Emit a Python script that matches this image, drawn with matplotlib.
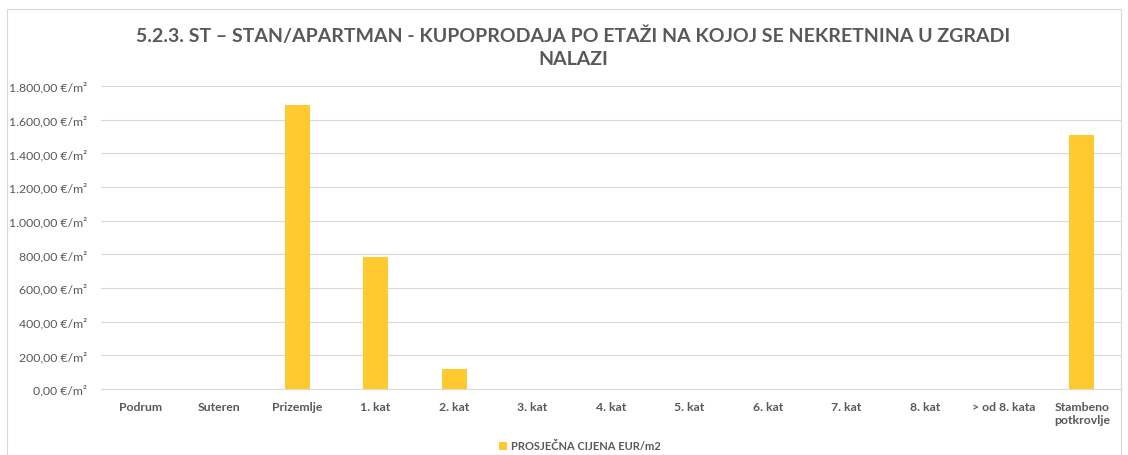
import matplotlib
matplotlib.use("Agg")
import matplotlib.pyplot as plt
from matplotlib.patches import Rectangle

categories = ["Podrum", "Suteren", "Prizemlje", "1. kat", "2. kat", "3. kat", "4. kat",
              "5. kat", "6. kat", "7. kat", "8. kat", "> od 8. kata", "Stambeno\npotkrovlje"]
values = [0, 0, 1687, 784, 119, 0, 0, 0, 0, 0, 0, 0, 1509]
yticks = [0, 200, 400, 600, 800, 1000, 1200, 1400, 1600, 1800]
ytick_labels = ["0,00 €/m²", "200,00 €/m²", "400,00 €/m²", "600,00 €/m²", "800,00 €/m²",
                "1.000,00 €/m²", "1.200,00 €/m²", "1.400,00 €/m²", "1.600,00 €/m²", "1.800,00 €/m²"]
title = "5.2.3. ST – STAN/APARTMAN - KUPOPRODAJA PO ETAŽI NA KOJOJ SE NEKRETNINA U ZGRADI\nNALAZI"
series_name = "PROSJEČNA CIJENA EUR/m2"

plt.rcParams['font.family'] = ['Lato', 'DejaVu Sans']

fig = plt.figure(figsize=(11.28, 4.56), dpi=100)
fig.patches.append(Rectangle((7/1128, 0), (1121-7)/1128, 1 - 10/456, transform=fig.transFigure,
                             fill=False, edgecolor="#d9d9d9", linewidth=0.8))
ax = fig.add_axes([101/1128, 1 - 390/456, (1121-101)/1128, (390-87)/456])

x = list(range(len(categories)))
ax.bar(x, values, width=0.32, color="#FFCA2F", zorder=3, label=series_name)
ax.set_xlim(-0.5, len(categories) - 0.5)
ax.set_ylim(0, 1800)
ax.set_yticks(yticks)
ax.set_yticklabels(ytick_labels, fontsize=8.8, color="#595959")
ax.set_xticks(x)
ax.set_xticklabels(categories, fontsize=8.8, color="#595959", fontweight="bold")
ax.grid(axis="y", color="#d9d9d9", linewidth=0.8, zorder=0)
for s in ["top", "right", "left"]:
    ax.spines[s].set_visible(False)
ax.spines["bottom"].set_color("#d9d9d9")
ax.spines["bottom"].set_linewidth(0.8)
ax.tick_params(axis="y", length=0, pad=10)
ax.tick_params(axis="x", length=0, pad=9)

fig.text(573/1128, 1 - 47/456, title, ha="center", va="center", fontsize=14,
         fontweight="bold", color="#595959", linespacing=1.45)

leg = fig.legend(loc="center", bbox_to_anchor=(580/1128, 1 - 447/456), frameon=False,
                 prop={"size": 8, "weight": "bold"}, handlelength=0.7, handleheight=0.7,
                 handletextpad=0.4)
for t in leg.get_texts():
    t.set_color("#595959")

fig.savefig("out.png", dpi=100)
